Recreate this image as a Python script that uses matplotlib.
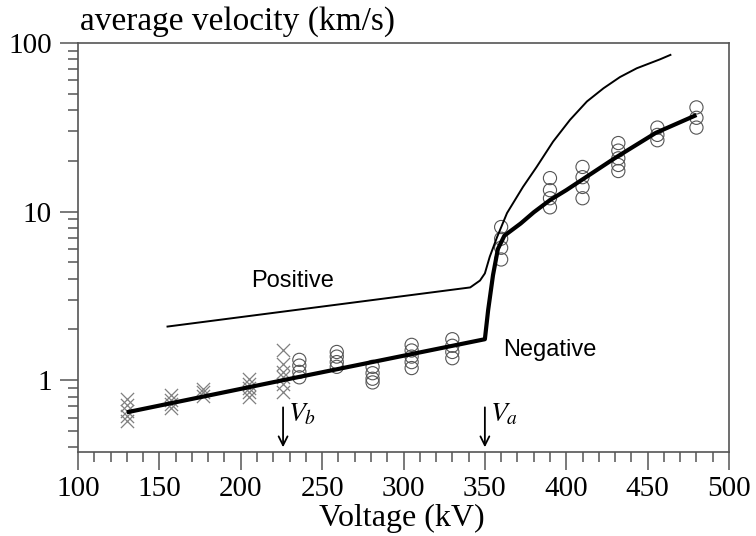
import matplotlib
matplotlib.use("Agg")
import matplotlib.pyplot as plt
from matplotlib.ticker import LogLocator, FixedLocator, MultipleLocator, NullFormatter, FixedFormatter

plt.rcParams['mathtext.fontset'] = 'stix'

# ---- data ----
cross_voltage = [130, 130, 130, 130, 130,
                 157, 157, 157, 157,
                 177, 177, 177,
                 205, 205, 205, 205, 205,
                 226, 226, 226, 226, 226, 226]
cross_velocity = [0.77, 0.71, 0.66, 0.61, 0.57,
                  0.82, 0.76, 0.72, 0.68,
                  0.89, 0.85, 0.81,
                  1.02, 0.95, 0.90, 0.85, 0.80,
                  1.50, 1.25, 1.12, 1.05, 0.95, 0.85]

circle_voltage = [236, 236, 236, 236,
                  259, 259, 259, 259,
                  281, 281, 281, 281,
                  305, 305, 305, 305, 305,
                  330, 330, 330, 330,
                  360, 360, 360, 360,
                  390, 390, 390, 390,
                  410, 410, 410, 410,
                  432, 432, 432, 432, 432,
                  456, 456, 456,
                  480, 480, 480]
circle_velocity = [1.32, 1.22, 1.12, 1.04,
                   1.47, 1.38, 1.28, 1.20,
                   1.20, 1.10, 1.02, 0.97,
                   1.62, 1.50, 1.38, 1.28, 1.18,
                   1.75, 1.60, 1.47, 1.35,
                   8.1, 6.9, 6.1, 5.2,
                   15.8, 13.4, 12.0, 10.6,
                   18.4, 16.0, 14.0, 12.0,
                   25.5, 23.0, 20.7, 18.9, 17.4,
                   31.5, 28.5, 26.5,
                   41.5, 36.0, 31.5]

negative_fit_voltage = [130, 226, 350, 352, 355, 358, 362, 372, 380, 390, 400, 430, 455, 480]
negative_fit_velocity = [0.645, 1.0, 1.75, 2.6, 4.2, 6.0, 7.2, 8.5, 9.9, 11.7, 13.4, 20.8, 29.3, 37.4]

positive_voltage = [155, 341, 347, 350, 353, 357.5, 363.6, 373.4, 381.8, 391.9,
                    402.3, 412.7, 422.9, 433, 443.3, 457.6, 464]
positive_velocity = [2.08, 3.55, 3.9, 4.3, 5.4, 7.06, 9.8, 14.0, 18.4, 26.0,
                     35.0, 45.0, 53.9, 62.8, 70.8, 80.0, 85]

arrow_voltages = [226, 350]
arrow_labels = ['$V_b$', '$V_a$']

x_ticks = [100, 150, 200, 250, 300, 350, 400, 450, 500]
y_ticks = [1, 10, 100]
y_ticklabels = ['1', '10', '100']

# ---- figure ----
fig = plt.figure(figsize=(7.56, 5.36), dpi=100)
ax = fig.add_axes([78/756, 1-452/536, (729-78)/756, (452-43)/536])
ax.set_yscale('log')
ax.set_xlim(100, 500)
ax.set_ylim(0.375, 100)

ax.scatter(cross_voltage, cross_velocity, marker='x', s=90, c='#808080',
           linewidths=0.9, zorder=2)
ax.scatter(circle_voltage, circle_velocity, marker='o', s=90, facecolors='none',
           edgecolors='#555555', linewidths=0.8, zorder=2)
ax.plot(negative_fit_voltage, negative_fit_velocity, color='black', lw=3.0, zorder=3,
        solid_capstyle='butt', solid_joinstyle='round')
ax.plot(positive_voltage, positive_velocity, color='black', lw=1.4, zorder=3,
        solid_joinstyle='round')

serif = ['Liberation Serif', 'DejaVu Serif']
sans = ['Liberation Sans', 'DejaVu Sans']

for xv, lab in zip(arrow_voltages, arrow_labels):
    ax.annotate('', xy=(xv, 0.40), xytext=(xv, 0.69),
                arrowprops=dict(arrowstyle='->', lw=1.3, color='black',
                                mutation_scale=16, shrinkA=0, shrinkB=0))
    ax.text(xv + 3, 0.57, lab, fontsize=20, va='baseline', ha='left')

ax.text(232, 3.9, 'Positive', fontsize=17, family=sans, ha='center', va='center')
ax.text(390, 1.51, 'Negative', fontsize=17, family=sans, ha='center', va='center')

# axes styling
for s in ax.spines.values():
    s.set_color('#555555')
    s.set_linewidth(1.2)

ax.xaxis.set_major_locator(FixedLocator(x_ticks))
ax.xaxis.set_minor_locator(MultipleLocator(10))
ax.yaxis.set_major_locator(FixedLocator(y_ticks))
ax.yaxis.set_major_formatter(FixedFormatter(y_ticklabels))
ax.yaxis.set_minor_locator(LogLocator(base=10, subs=range(2, 10)))
ax.yaxis.set_minor_formatter(NullFormatter())

ax.tick_params(axis='both', which='major', direction='out', length=13, width=1.1,
               color='#555555', labelsize=21, labelcolor='black')
ax.tick_params(axis='both', which='minor', direction='out', length=7, width=1.1,
               color='#555555')
ax.tick_params(axis='x', which='major', pad=4)
ax.tick_params(axis='y', which='major', pad=6)
for lab in ax.get_xticklabels() + ax.get_yticklabels():
    lab.set_family(serif)

fig.text(80/756, 1-30/536, 'average velocity (km/s)', fontsize=24, family=serif,
         ha='left', va='baseline')
fig.text(402/756, 1-526/536, 'Voltage (kV)', fontsize=23, family=serif,
         ha='center', va='baseline')

fig.savefig('out.png', dpi=100)
